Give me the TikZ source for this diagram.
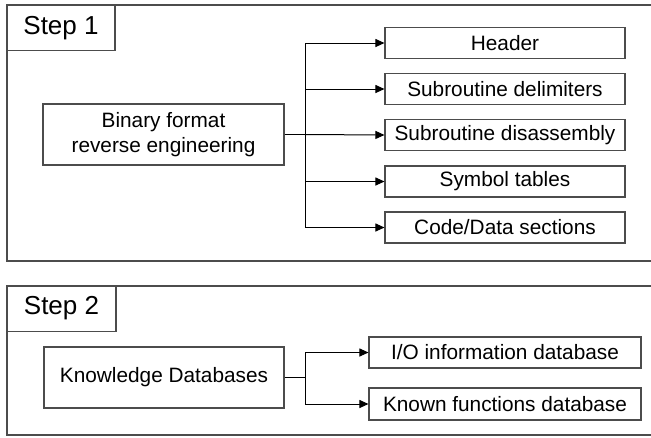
\documentclass[tikz,border=0pt]{standalone}
\usepackage{fontspec}
\setmainfont{Liberation Sans}
\usetikzlibrary{arrows.meta}
\begin{document}
\begin{tikzpicture}[x=1pt,y=-1pt,
  frame/.style={draw=black!70,line width=1.3pt},
  tab/.style={draw=black!70,line width=1.1pt,font=\fontsize{26}{28}\selectfont,
    minimum width=108pt,minimum height=45.5pt,inner sep=0pt},
  box/.style={draw=black!70,line width=1.1pt,font=\fontsize{20.8}{25}\selectfont,
    minimum height=31pt,inner sep=0pt,align=center},
  bigbox/.style={box,minimum width=241pt,minimum height=61pt},
  conn/.style={draw=black,line width=1pt},
  arr/.style={conn,-{Triangle[length=9pt,width=8pt]}}]
  \useasboundingbox (0,0) rectangle (651,437);

  % Step 1 panel
  \draw[frame] (7,5) rectangle (660,261);
  \node[tab] (s1) at (61,28) {Step 1};
  \node[bigbox] (bin) at (163.5,134.5) {Binary format\\reverse engineering};
  \node[box,minimum width=240pt] (hdr) at (505,43) {Header};
  \node[box,minimum width=240pt] (del) at (505,89) {Subroutine delimiters};
  \node[box,minimum width=240pt] (dis) at (505,135) {Subroutine disassembly};
  \node[box,minimum width=240pt] (sym) at (505,181.5) {Symbol tables};
  \node[box,minimum width=240pt] (cod) at (505,227.5) {Code/Data sections};

  \coordinate (t1) at (305,134.5);
  \draw[conn] (bin.east) -- (t1);
  \draw[arr] (t1) |- (hdr.west);
  \draw[arr] (t1) |- (del.west);
  \draw[arr] (t1) -- (dis.west);
  \draw[arr] (t1) |- (sym.west);
  \draw[arr] (t1) |- (cod.west);

  % Step 2 panel
  \draw[frame] (7,286) rectangle (660,435);
  \node[tab,minimum width=109pt] (s2) at (61.5,308.5) {Step 2};
  \node[bigbox,minimum width=240pt] (kdb) at (164,377.5) {Knowledge Databases};
  \node[box,minimum width=272pt] (io) at (505,352.5) {I/O information database};
  \node[box,minimum width=272pt,minimum height=32pt] (kfd) at (505,404) {Known functions database};

  \coordinate (t2) at (305,377.5);
  \draw[conn] (kdb.east) -- (t2);
  \draw[arr] (t2) |- (io.west);
  \draw[arr] (t2) |- (kfd.west);
\end{tikzpicture}
\end{document}
